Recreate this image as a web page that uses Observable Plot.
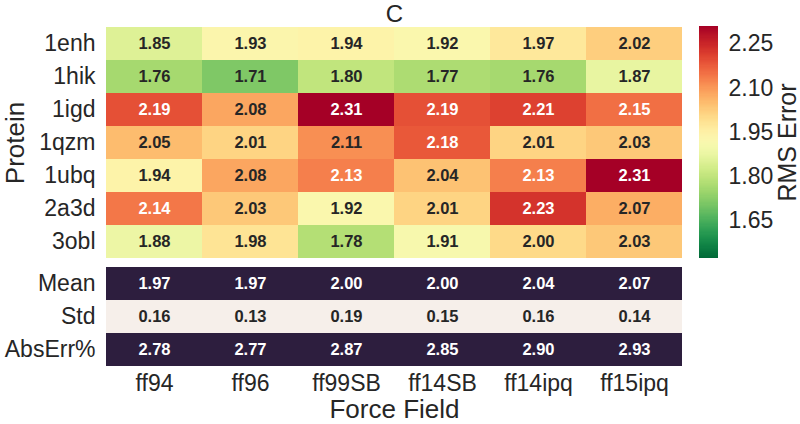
<!DOCTYPE html>
<html>
<head>
<meta charset="utf-8">
<script src="https://cdn.jsdelivr.net/npm/d3@7"></script>
<script src="https://cdn.jsdelivr.net/npm/@observablehq/plot@0.6"></script>
<style>
  html, body { margin: 0; padding: 0; background: #fff; }
  #wrap { position: relative; width: 800px; height: 424px; overflow: hidden; }
  #wrap svg { position: absolute; left: 0; top: 0; background: transparent; }
</style>
</head>
<body>
<div id="wrap"></div>
<script>
const title = "C";
const fields = ["ff94", "ff96", "ff99SB", "ff14SB", "ff14ipq", "ff15ipq"];
const proteins = ["1enh", "1hik", "1igd", "1qzm", "1ubq", "2a3d", "3obl"];
const rmsValues = [
  [1.85, 1.93, 1.94, 1.92, 1.97, 2.02],
  [1.76, 1.71, 1.80, 1.77, 1.76, 1.87],
  [2.19, 2.08, 2.31, 2.19, 2.21, 2.15],
  [2.05, 2.01, 2.11, 2.18, 2.01, 2.03],
  [1.94, 2.08, 2.13, 2.04, 2.13, 2.31],
  [2.14, 2.03, 1.92, 2.01, 2.23, 2.07],
  [1.88, 1.98, 1.78, 1.91, 2.00, 2.03]
];
const statNames = ["Mean", "Std", "AbsErr%"];
const statValues = [
  [1.97, 1.97, 2.00, 2.00, 2.04, 2.07],
  [0.16, 0.13, 0.19, 0.15, 0.16, 0.14],
  [2.78, 2.77, 2.87, 2.85, 2.90, 2.93]
];
const colorDomain = [1.52, 2.31];
const colorTicks = [1.65, 1.80, 1.95, 2.10, 2.25];
const statColors = ["#2d1e3e", "#f6efea", "#2d1e3e"];
const xLabel = "Force Field";
const yLabel = "Protein";
const cbarLabel = "RMS Error";

const font = "'Liberation Sans', Arial, sans-serif";
const ink = "#262626";

const heat = proteins.flatMap((p, i) => fields.map((f, j) => ({protein: p, field: f, value: rmsValues[i][j]})));
const stats = statNames.flatMap((s, i) => fields.map((f, j) => ({stat: s, field: f, value: statValues[i][j]})));

const colorOpts = {type: "linear", scheme: "RdYlGn", reverse: true, domain: colorDomain};
const W = 800, H = 424;
const common = {width: W, height: H, style: {fontFamily: font, fontSize: "23px", color: ink, background: "transparent"}};

const plotA = Plot.plot({
  ...common,
  marginLeft: 105, marginRight: 117, marginTop: 27, marginBottom: 166,
  x: {domain: fields, padding: 0, axis: null},
  y: {domain: proteins, padding: 0, tickSize: 0, tickPadding: 10, label: null},
  color: colorOpts,
  marks: [
    Plot.cell(heat, {x: "field", y: "protein", fill: "value"}),
    Plot.text(heat.filter(d => d.value <= 2.12), {x: "field", y: "protein", text: d => d.value.toFixed(2), fill: ink, fontWeight: "bold", fontSize: 16.5}),
    Plot.text(heat.filter(d => d.value > 2.12), {x: "field", y: "protein", text: d => d.value.toFixed(2), fill: "white", fontWeight: "bold", fontSize: 16.5}),
    Plot.text([title], {frameAnchor: "top", text: d => d, lineAnchor: "bottom", dy: -6, fontSize: 24, fill: ink}),
    Plot.text([yLabel], {frameAnchor: "left", textAnchor: "middle", text: d => d, rotate: -90, dx: -90, fontSize: 26, fill: ink})
  ]
});

const plotB = Plot.plot({
  ...common,
  marginLeft: 105, marginRight: 117, marginTop: 267, marginBottom: 58,
  x: {domain: fields, padding: 0, tickSize: 0, tickPadding: 8, label: null},
  y: {domain: statNames, padding: 0, tickSize: 0, tickPadding: 10, label: null},
  color: {type: "ordinal", domain: statNames, range: statColors},
  marks: [
    Plot.cell(stats, {x: "field", y: "stat", fill: "stat"}),
    Plot.text(stats.filter(d => d.stat !== "Std"), {x: "field", y: "stat", text: d => d.value.toFixed(2), fill: "white", fontWeight: "bold", fontSize: 16.5}),
    Plot.text(stats.filter(d => d.stat === "Std"), {x: "field", y: "stat", text: d => d.value.toFixed(2), fill: ink, fontWeight: "bold", fontSize: 16.5}),
    Plot.text([xLabel], {frameAnchor: "bottom", text: d => d, lineAnchor: "bottom", dy: 51, fontSize: 26, fill: ink})
  ]
});

const step = (colorDomain[1] - colorDomain[0]) / 200;
const stops = d3.range(200).map(i => colorDomain[0] + i * step);
const plotC = Plot.plot({
  ...common,
  marginLeft: 699, marginRight: 82, marginTop: 26, marginBottom: 166,
  x: {axis: null},
  y: {domain: colorDomain, ticks: colorTicks, tickFormat: ".2f", axis: "right", tickSize: 0, tickPadding: 10, label: null},
  color: colorOpts,
  marks: [
    Plot.rect(stops, {y1: d => d, y2: d => Math.min(colorDomain[1], d + step * 2), fill: d => d + step / 2, shapeRendering: "crispEdges"}),
    Plot.text([cbarLabel], {frameAnchor: "right", textAnchor: "middle", text: d => d, rotate: -90, dx: 69, fontSize: 25, fill: ink})
  ]
});

const wrap = document.getElementById("wrap");
wrap.append(plotA, plotB, plotC);
</script>
</body>
</html>
